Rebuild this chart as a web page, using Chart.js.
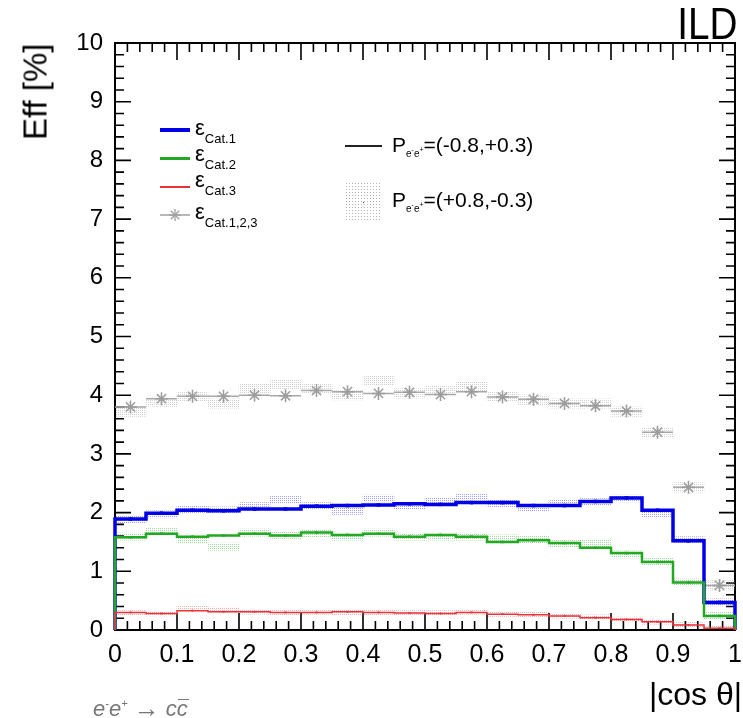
<!DOCTYPE html>
<html>
<head>
<meta charset="utf-8">
<script src="https://cdn.jsdelivr.net/npm/chart.js@4.4.1/dist/chart.umd.min.js"></script>
<style>
html,body{margin:0;padding:0;background:#fff;}
#wrap{position:relative;width:743px;height:718px;overflow:hidden;font-family:"Liberation Sans",Arial,Helvetica,sans-serif;}
#c{position:absolute;left:0;top:0;}
.t{position:absolute;white-space:nowrap;line-height:1;color:#000;}
.sb{position:relative;}
.sp{font-size:7px;position:relative;top:-5px;}
</style>
</head>
<body>
<div id="wrap">
  <canvas id="c" width="743" height="718"></canvas>

  <div class="t" style="right:6px;top:1.8px;font-size:44px;transform:scaleX(0.88);transform-origin:right center;">ILD</div>
  <div class="t" style="left:-25.4px;top:86.5px;width:120px;text-align:right;font-size:33px;transform:rotate(-90deg);">Eff [%]</div>
  <div class="t" style="right:1px;top:677.9px;font-size:32px;">|cos θ|</div>
  <div class="t" style="left:93px;top:694px;font-size:22px;font-style:italic;color:#777;">e<span style="font-size:11px;position:relative;top:-9px;">-</span>e<span style="font-size:11px;position:relative;top:-9px;">+</span> <span style="font-style:normal;font-size:26px;position:relative;top:1px;">→</span> c<span style="position:relative;">c<span style="position:absolute;left:1px;right:-1px;top:3px;border-top:1.5px solid #777;"></span></span></div>

  <!-- left legend -->
  <div style="position:absolute;left:160px;top:128px;width:30px;height:4px;background:#0000e6;"></div>
  <div style="position:absolute;left:160px;top:156.5px;width:30px;height:3px;background:#22a822;"></div>
  <div style="position:absolute;left:160px;top:186px;width:30px;height:1.5px;background:#e8333a;"></div>
  <svg style="position:absolute;left:160px;top:207px;" width="30" height="16">
    <line x1="0" y1="8" x2="30" y2="8" stroke="#a0a0a0" stroke-width="1.5"/>
    <g stroke="#a0a0a0" stroke-width="1.3">
      <line x1="9" y1="8" x2="21" y2="8"/><line x1="15" y1="2" x2="15" y2="14"/>
      <line x1="10.8" y1="3.8" x2="19.2" y2="12.2"/><line x1="10.8" y1="12.2" x2="19.2" y2="3.8"/>
    </g>
  </svg>
  <div class="t" style="left:195px;top:117.4px;font-size:22px;">ε<span class="sb" style="font-size:13px;top:8px;">Cat.1</span></div>
  <div class="t" style="left:195px;top:143.4px;font-size:22px;">ε<span class="sb" style="font-size:13px;top:8px;">Cat.2</span></div>
  <div class="t" style="left:195px;top:169.4px;font-size:22px;">ε<span class="sb" style="font-size:13px;top:8px;">Cat.3</span></div>
  <div class="t" style="left:195px;top:201.4px;font-size:22px;">ε<span class="sb" style="font-size:13px;top:8px;">Cat.1,2,3</span></div>

  <!-- right legend -->
  <div style="position:absolute;left:345px;top:145px;width:37px;height:2px;background:#222;"></div>
  <div style="position:absolute;left:345px;top:182px;width:37px;height:40px;background-image:radial-gradient(circle,#b4b4b4 0.7px,transparent 0.9px);background-size:3px 3px;"></div>
  <div style="position:absolute;left:362.5px;top:201.5px;width:1.5px;height:1.5px;background:#333;"></div>
  <div class="t" style="left:392px;top:134.2px;font-size:21px;">P<span class="sb" style="font-size:10px;top:5px;">e<span class="sp">-</span>e<span class="sp">+</span></span>=(-0.8,+0.3)</div>
  <div class="t" style="left:392px;top:189.2px;font-size:21px;">P<span class="sb" style="font-size:10px;top:5px;">e<span class="sp">-</span>e<span class="sp">+</span></span>=(+0.8,-0.3)</div>
</div>

<script>
// ---- data ----
const binLow = [0, 0.05, 0.1, 0.15, 0.2, 0.25, 0.3, 0.35, 0.4, 0.45, 0.5, 0.55, 0.6, 0.65, 0.7, 0.75, 0.8, 0.85, 0.9, 0.95];
const binWidth = 0.05;
const xTickLabels = ['0', '0.1', '0.2', '0.3', '0.4', '0.5', '0.6', '0.7', '0.8', '0.9', '1'];
const yTickLabels = ['0', '1', '2', '3', '4', '5', '6', '7', '8', '9', '10'];

// P(e-,e+) = (-0.8,+0.3)  -> lines
const cat1A   = [1.89, 1.99, 2.04, 2.03, 2.06, 2.06, 2.11, 2.12, 2.13, 2.15, 2.14, 2.17, 2.17, 2.12, 2.12, 2.19, 2.25, 2.04, 1.52, 0.47];
const cat2A   = [1.58, 1.64, 1.59, 1.61, 1.64, 1.61, 1.66, 1.62, 1.64, 1.59, 1.62, 1.59, 1.50, 1.53, 1.48, 1.40, 1.31, 1.16, 0.81, 0.24];
const cat3A   = [0.30, 0.28, 0.33, 0.31, 0.31, 0.30, 0.30, 0.31, 0.30, 0.29, 0.28, 0.30, 0.27, 0.26, 0.24, 0.21, 0.18, 0.14, 0.085, 0.03];
const catAllA = [3.80, 3.94, 3.98, 3.98, 4.00, 3.99, 4.08, 4.06, 4.03, 4.05, 4.01, 4.06, 3.97, 3.93, 3.86, 3.82, 3.73, 3.37, 2.43, 0.76];

// P(e-,e+) = (+0.8,-0.3)  -> shaded boxes
const cat1B   = [1.88, 1.97, 2.05, 2.04, 2.11, 2.23, 2.11, 2.03, 2.24, 2.12, 2.19, 2.27, 2.16, 2.09, 2.15, 2.18, 2.24, 1.98, 1.53, 0.47];
const cat2B   = [1.59, 1.67, 1.53, 1.42, 1.66, 1.62, 1.65, 1.59, 1.66, 1.59, 1.59, 1.59, 1.56, 1.54, 1.48, 1.48, 1.29, 1.16, 0.81, 0.24];
const cat3B   = [0.29, 0.28, 0.37, 0.35, 0.31, 0.30, 0.31, 0.30, 0.30, 0.29, 0.29, 0.31, 0.27, 0.26, 0.24, 0.22, 0.18, 0.14, 0.085, 0.03];
const catAllB = [3.72, 3.89, 3.98, 3.86, 4.12, 4.19, 4.12, 4.00, 4.25, 4.03, 4.09, 4.15, 3.97, 3.92, 3.86, 3.86, 3.72, 3.36, 2.43, 0.76];

// statistical half-heights of the shaded boxes
const errCat1 = 0.06, errCat2 = 0.06, errCat3 = 0.04, errAll = 0.08;

// ---- helpers ----
const COL1 = '#0000e6', COL2 = '#22a822', COL3 = '#e8333a', COLA = '#9c9c9c';

function histPoints(vals) {
  const end = binLow[binLow.length - 1] + binWidth;
  const pts = [{x: binLow[0], y: 0}];
  vals.forEach((v, i) => pts.push({x: binLow[i], y: v}));
  pts.push({x: end, y: vals[vals.length - 1]});
  pts.push({x: end, y: 0});
  return pts;
}
function centers(vals) { return vals.map((v, i) => ({x: binLow[i] + binWidth / 2, y: v})); }
function boxes(vals, e) { return vals.map((v, i) => ({x: binLow[i] + binWidth / 2, y: [v - e, v + e]})); }
function hbars(vals) {
  const pts = [];
  vals.forEach((v, i) => {
    pts.push({x: binLow[i], y: v});
    pts.push({x: binLow[i] + binWidth, y: v});
    pts.push({x: binLow[i] + binWidth, y: null});
  });
  return pts;
}
function dots(r, g, b, a) {
  const c = document.createElement('canvas');
  c.width = 2; c.height = 2;
  const x = c.getContext('2d');
  x.fillStyle = `rgba(${r},${g},${b},${a})`;
  x.fillRect(0, 0, 1, 1);
  return x.createPattern(c, 'repeat');
}

// axis frame + ROOT style inward ticks
const xMajor = 0.1, xMinor = 0.02, yMajor = 1, yMinor = 0.2;
const frame = {
  id: 'frame',
  beforeDatasetsDraw(chart) {
    const {ctx, chartArea: a, scales: {x, y}} = chart;
    ctx.save();
    ctx.strokeStyle = '#000';
    ctx.lineWidth = 1.6;
    ctx.beginPath();
    const nX = Math.round((x.max - x.min) / xMinor);
    for (let i = 0; i <= nX; i++) {
      const px = x.getPixelForValue(x.min + i * xMinor);
      const L = (i % Math.round(xMajor / xMinor) === 0) ? 17 : 9;
      ctx.moveTo(px, a.bottom); ctx.lineTo(px, a.bottom - L);
      ctx.moveTo(px, a.top); ctx.lineTo(px, a.top + L);
    }
    const nY = Math.round((y.max - y.min) / yMinor);
    for (let i = 0; i <= nY; i++) {
      const py = y.getPixelForValue(y.min + i * yMinor);
      const L = (i % Math.round(yMajor / yMinor) === 0) ? 16 : 9;
      ctx.moveTo(a.left, py); ctx.lineTo(a.left + L, py);
      ctx.moveTo(a.right, py); ctx.lineTo(a.right - L, py);
    }
    ctx.stroke();
    ctx.lineWidth = 2;
    ctx.strokeRect(a.left, a.top, a.right - a.left, a.bottom - a.top);
    ctx.restore();
  }
};

const boxCommon = {type: 'bar', grouped: false, borderWidth: 0, barPercentage: 1, categoryPercentage: 1, order: 20};
const histCommon = {type: 'line', stepped: 'before', pointRadius: 0, fill: false, clip: 6, tension: 0};
const markCommon = {type: 'scatter', showLine: false, pointStyle: 'rect', borderWidth: 0, clip: 6};

new Chart(document.getElementById('c'), {
  type: 'line',
  data: {
    datasets: [
      {...boxCommon, data: boxes(catAllB, errAll), backgroundColor: dots(150, 150, 150, 0.45)},
      {...boxCommon, data: boxes(cat1B, errCat1), backgroundColor: dots(40, 40, 255, 0.45)},
      {...boxCommon, data: boxes(cat2B, errCat2), backgroundColor: dots(40, 170, 40, 0.45)},
      {...boxCommon, data: boxes(cat3B, errCat3), backgroundColor: dots(232, 50, 58, 0.4)},

      {type: 'line', data: hbars(catAllA), borderColor: '#a8a8a8', borderWidth: 1.5, pointRadius: 0, spanGaps: false, order: 8, clip: 6},
      {type: 'scatter', data: centers(catAllA), showLine: false, pointStyle: 'star', pointRadius: 6.5, borderColor: COLA, borderWidth: 1.5, order: 7, clip: 6},

      {...histCommon, data: histPoints(cat1A), borderColor: COL1, borderWidth: 3.5, order: 5},
      {...markCommon, data: centers(cat1A), backgroundColor: COL1, pointRadius: 2.5, order: 4},
      {...histCommon, data: histPoints(cat2A), borderColor: COL2, borderWidth: 2.5, order: 3},
      {...markCommon, data: centers(cat2A), backgroundColor: COL2, pointRadius: 1.8, order: 2},
      {...histCommon, data: histPoints(cat3A), borderColor: COL3, borderWidth: 1.5, order: 1},
      {...markCommon, data: centers(cat3A), backgroundColor: COL3, pointRadius: 1.4, order: 0}
    ]
  },
  options: {
    responsive: false,
    animation: false,
    events: [],
    layout: {padding: {left: 0, right: 2, top: 43, bottom: 0}},
    plugins: {legend: {display: false}, tooltip: {enabled: false}},
    scales: {
      x: {
        type: 'linear', min: 0, max: 1, offset: false,
        grid: {display: false, drawTicks: false},
        border: {display: false},
        ticks: {
          stepSize: xMajor, autoSkip: false, maxRotation: 0, padding: 10,
          color: '#000', font: {family: '"Liberation Sans", Arial, sans-serif', size: 25},
          callback: (v) => { const i = Math.round(v / xMajor); return xTickLabels[i] ?? ''; }
        },
        afterFit: (s) => { s.height = 88; s.paddingLeft = 0; s.paddingRight = 0; }
      },
      y: {
        type: 'linear', min: 0, max: 10,
        grid: {display: false, drawTicks: false},
        border: {display: false},
        ticks: {
          stepSize: yMajor, autoSkip: false, padding: 12,
          color: '#000', font: {family: '"Liberation Sans", Arial, sans-serif', size: 24},
          callback: (v) => { const i = Math.round(v / yMajor); return yTickLabels[i] ?? ''; }
        },
        afterFit: (s) => { s.width = 115; s.paddingTop = 0; s.paddingBottom = 0; }
      }
    }
  },
  plugins: [frame]
});
</script>
</body>
</html>
